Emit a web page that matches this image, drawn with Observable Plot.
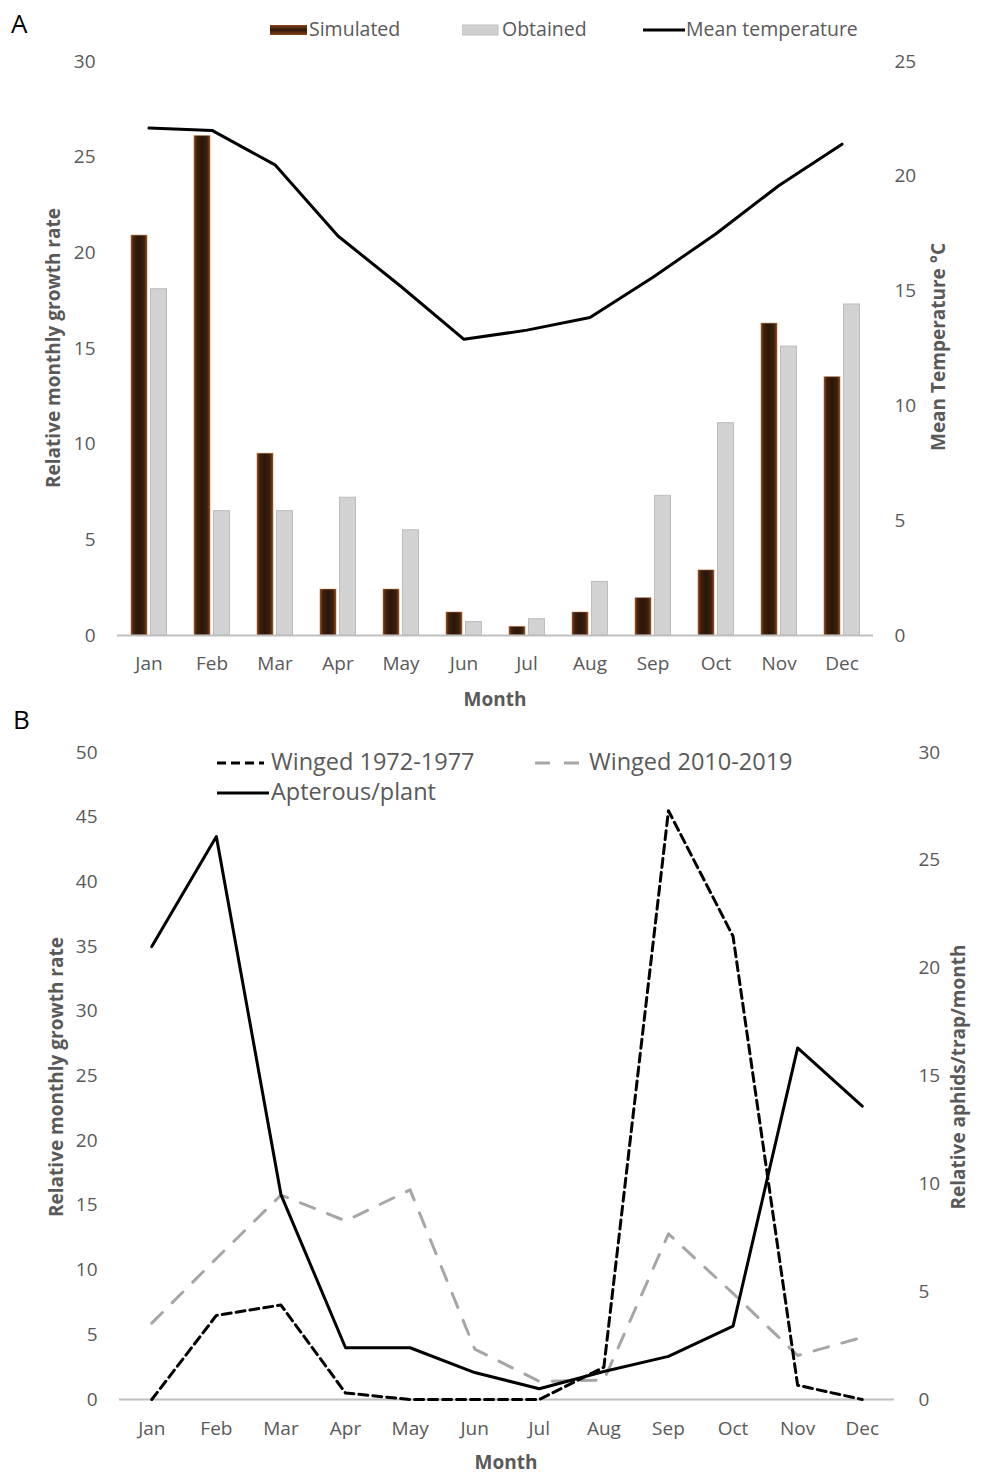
<!DOCTYPE html>
<html>
<head>
<meta charset="utf-8">
<script src="https://cdn.jsdelivr.net/npm/d3@7"></script>
<script src="https://cdn.jsdelivr.net/npm/@observablehq/plot@0.6"></script>
<style>
  html, body { margin: 0; padding: 0; background: #fff; }
  body { width: 981px; height: 1473px; position: relative; overflow: hidden; font-family: "Open Sans", sans-serif; }
  .abs { position: absolute; white-space: nowrap; }
  .panel { position: absolute; left: 0; }
  .letter { font-size: 26px; color: #000; }
  .leg { font-size: 19.5px; color: #595959; }
  .legB { font-size: 23.5px; color: #595959; }
  .title { font-size: 19px; font-weight: 700; color: #595959; }
  .vt { transform: translate(-50%, -50%) rotate(-90deg); }
  .ht { transform: translate(-50%, -50%); }
</style>
</head>
<body>
<div id="panelA" class="panel" style="top:0"></div>
<div id="panelB" class="panel" style="top:705px"></div>

<div class="abs letter" style="left:11px; top:5px;">A</div>
<div class="abs letter" style="left:13px; top:701px;">B</div>

<!-- Legend A -->
<svg class="abs" style="left:270px; top:24px" width="38" height="12"><defs><linearGradient id="lgA" x1="0" x2="0" y1="0" y2="1"><stop offset="0" stop-color="#8a4416"/><stop offset="0.5" stop-color="#2e190b"/><stop offset="1" stop-color="#8a4416"/></linearGradient></defs><rect x="0" y="1" width="37" height="10" fill="url(#lgA)"/></svg>
<div class="abs leg" style="left:309px; top:15px;">Simulated</div>
<svg class="abs" style="left:462px; top:24px" width="38" height="12"><rect x="0" y="1" width="36" height="10" fill="#d0d0d0" stroke="#bfbfbf"/></svg>
<div class="abs leg" style="left:502px; top:15px;">Obtained</div>
<svg class="abs" style="left:642px; top:24px" width="44" height="12"><line x1="1" x2="43" y1="6" y2="6" stroke="#000" stroke-width="3"/></svg>
<div class="abs leg" style="left:686px; top:15px;">Mean temperature</div>

<!-- Legend B -->
<svg class="abs" style="left:216px; top:757px" width="50" height="12"><line x1="1" x2="48" y1="6" y2="6" stroke="#000" stroke-width="3" stroke-dasharray="9,5"/></svg>
<div class="abs legB" style="left:271px; top:745px;">Winged 1972-1977</div>
<svg class="abs" style="left:216px; top:787px" width="54" height="12"><line x1="1" x2="53" y1="6" y2="6" stroke="#000" stroke-width="3"/></svg>
<div class="abs legB" style="left:271px; top:775px;">Apterous/plant</div>
<svg class="abs" style="left:534px; top:757px" width="52" height="12"><line x1="1" x2="50" y1="6" y2="6" stroke="#a6a6a6" stroke-width="3" stroke-dasharray="15,14"/></svg>
<div class="abs legB" style="left:589px; top:745px;">Winged 2010-2019</div>

<!-- Axis titles -->
<div class="abs title vt" style="left:53px; top:348px;">Relative monthly growth rate</div>
<div class="abs title vt" style="left:938px; top:347px;">Mean Temperature °C</div>
<div class="abs title ht" style="left:495px; top:699px;">Month</div>
<div class="abs title vt" style="left:56px; top:1077px;">Relative monthly growth rate</div>
<div class="abs title vt" style="left:958px; top:1077px;">Relative aphids/trap/month</div>
<div class="abs title ht" style="left:506px; top:1462px;">Month</div>

<script>
// ---------- DATA ----------
const months = ["Jan","Feb","Mar","Apr","May","Jun","Jul","Aug","Sep","Oct","Nov","Dec"];

// Panel A
const simulated = [20.9, 26.1, 9.5, 2.4, 2.4, 1.2, 0.45, 1.2, 1.95, 3.4, 16.3, 13.5];
const obtained = [18.1, 6.5, 6.5, 7.2, 5.5, 0.7, 0.85, 2.8, 7.3, 11.1, 15.1, 17.3];
const meanTemperature = [22.1, 22.0, 20.5, 17.4, 15.2, 12.9, 13.3, 13.85, 15.6, 17.5, 19.6, 21.4];
const leftTicksA = [0, 5, 10, 15, 20, 25, 30];
const rightTicksA = [0, 5, 10, 15, 20, 25];

// Panel B
const winged1972 = [0, 6.5, 7.3, 0.5, 0, 0, 0, 2.5, 45.5, 35.8, 1.1, 0];
const winged2010 = [5.9, 10.9, 15.8, 13.8, 16.2, 3.9, 1.4, 1.5, 12.8, 8.2, 3.4, 4.8];
const apterousPlant = [21.0, 26.1, 9.5, 2.4, 2.4, 1.25, 0.5, 1.3, 2.0, 3.4, 16.3, 13.6];
const leftTicksB = [0, 5, 10, 15, 20, 25, 30, 35, 40, 45, 50];
const rightTicksB = [0, 5, 10, 15, 20, 25, 30];

// ---------- STYLE ----------
const tickColor = "#595959";
const axisFont = "19px";

// ---------- PANEL A ----------
const kA = 30 / 25; // right axis (0-25) mapped onto left domain (0-30)
const dataA = months.map((m, i) => ({month: m, sim: simulated[i], obt: obtained[i], temp: meanTemperature[i] * kA}));

const plotA = Plot.plot({
  width: 981,
  height: 710,
  marginLeft: 117,
  marginRight: 108,
  marginTop: 61,
  marginBottom: 75,
  style: {fontFamily: "Open Sans, sans-serif", fontSize: axisFont, color: tickColor, background: "transparent"},
  x: {type: "band", domain: months, padding: 0, round: false, label: null},
  y: {domain: [0, 30], label: null},
  marks: [
    Plot.barY(dataA, {x: "month", y: "sim", fill: "url(#simGrad)", stroke: "#b5652e", strokeOpacity: 0.5, strokeWidth: 1, insetLeft: 14, insetRight: 33}),
    Plot.barY(dataA, {x: "month", y: "obt", fill: "#d2d2d2", stroke: "#bdbdbd", strokeWidth: 1, insetLeft: 33.5, insetRight: 13.5}),
    Plot.ruleY([0], {stroke: "#bfbfbf", strokeWidth: 2}),
    Plot.line(dataA, {x: "month", y: "temp", stroke: "#000", strokeWidth: 3, strokeLinejoin: "round"}),
    Plot.axisY(leftTicksA, {anchor: "left", tickSize: 0, tickPadding: 22, label: null, fill: tickColor}),
    Plot.axisY(rightTicksA.map(t => t * kA), {anchor: "right", tickSize: 0, tickPadding: 21, label: null, fill: tickColor, tickFormat: d => String(Math.round(d / kA))}),
    Plot.axisX({anchor: "bottom", tickSize: 0, tickPadding: 21, label: null, fill: tickColor})
  ]
});
// gradient for simulated bars
const ns = "http://www.w3.org/2000/svg";
const defs = document.createElementNS(ns, "defs");
defs.innerHTML = '<linearGradient id="simGrad" x1="0" x2="1" y1="0" y2="0">' +
  '<stop offset="0" stop-color="#8a4517"/><stop offset="0.18" stop-color="#3d200e"/>' +
  '<stop offset="0.5" stop-color="#2a160a"/><stop offset="0.82" stop-color="#3d200e"/>' +
  '<stop offset="1" stop-color="#8a4517"/></linearGradient>';
plotA.insertBefore(defs, plotA.firstChild);
document.getElementById("panelA").appendChild(plotA);

// ---------- PANEL B ----------
const kB = 50 / 30; // right axis (0-30) mapped onto left domain (0-50)
const dataB = months.map((m, i) => ({month: m, w72: winged1972[i], w10: winged2010[i], apt: apterousPlant[i] * kB}));

const plotB = Plot.plot({
  width: 981,
  height: 768,
  marginLeft: 119,
  marginRight: 87,
  marginTop: 47,
  marginBottom: 74,
  style: {fontFamily: "Open Sans, sans-serif", fontSize: axisFont, color: tickColor, background: "transparent"},
  x: {type: "band", domain: months, padding: 0, round: false, label: null},
  y: {domain: [0, 50], label: null},
  marks: [
    Plot.ruleY([0], {stroke: "#bfbfbf", strokeWidth: 2}),
    Plot.line(dataB, {x: "month", y: "w10", stroke: "#a6a6a6", strokeWidth: 3, strokeDasharray: "15,14"}),
    Plot.line(dataB, {x: "month", y: "w72", stroke: "#000", strokeWidth: 3, strokeDasharray: "9,5"}),
    Plot.line(dataB, {x: "month", y: "apt", stroke: "#000", strokeWidth: 3}),
    Plot.axisY(leftTicksB, {anchor: "left", tickSize: 0, tickPadding: 22, label: null, fill: tickColor}),
    Plot.axisY(rightTicksB.map(t => t * kB), {anchor: "right", tickSize: 0, tickPadding: 24, label: null, fill: tickColor, tickFormat: d => String(Math.round(d / kB))}),
    Plot.axisX({anchor: "bottom", tickSize: 0, tickPadding: 22, label: null, fill: tickColor})
  ]
});
document.getElementById("panelB").appendChild(plotB);
</script>
</body>
</html>
